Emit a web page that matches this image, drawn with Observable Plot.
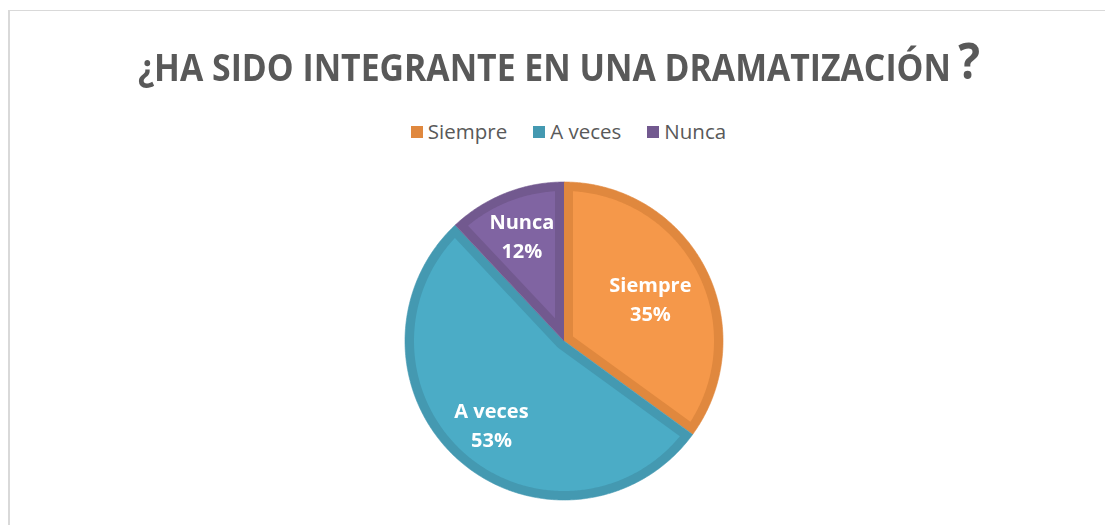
<!DOCTYPE html>
<html><head><meta charset="utf-8">
<script src="https://cdn.jsdelivr.net/npm/d3@7"></script>
<script src="https://cdn.jsdelivr.net/npm/@observablehq/plot@0.6"></script>
<style>
body{margin:0;width:1105px;height:525px;overflow:hidden;background:#fff;position:relative;font-family:"Open Sans",sans-serif}
#frame{position:absolute;left:8px;top:10px;width:1200px;height:600px;border-left:2px solid #d9d9d9;border-top:1px solid #d9d9d9;box-sizing:border-box}
#title{position:absolute;left:138px;top:37px;white-space:nowrap;font-weight:700;font-size:37px;line-height:1;color:#595959;transform-origin:0 0}
#title .q{font-size:50px;position:relative;top:-2px;margin-left:8px}
#legend{position:absolute;top:117px;left:0;width:1105px;display:flex;justify-content:center;padding-left:32px;box-sizing:border-box;font-size:20.5px;color:#595959;line-height:28px}
#legend .item{display:flex;align-items:center;margin:0 13px}
#legend .sw{width:12px;height:12px;margin-right:5px;margin-top:2px}
#chart{position:absolute;left:0;top:0}
</style></head>
<body>
<div id="frame"></div>
<div id="title">¿HA SIDO INTEGRANTE EN UNA DRAMATIZACIÓN<span class="q">?</span></div>
<div id="legend"></div>
<div id="chart"></div>
<script>
const categories = ["Siempre", "A veces", "Nunca"];
const values = [35, 53, 12];
const percentLabels = ["35%", "53%", "12%"];
const fillColors = ["#F5984A", "#4BACC6", "#8064A2"];
const borderColors = ["#E0883E", "#4499B1", "#72598F"];
const labelRadius = [0.61, 0.69, 0.72];

const R = 159, W = 9, cx = 563.5, cy = 340.5;
const w = W / R;

const arcs = d3.pie().sort(null).value(d => d)(values);
const pt = (a, r) => [r * Math.sin(a), -r * Math.cos(a)];
function arcPts(a0, a1, r) {
  const n = Math.max(2, Math.ceil(Math.abs(a1 - a0) / 0.01));
  const out = [];
  for (let i = 0; i <= n; i++) out.push(pt(a0 + (a1 - a0) * i / n, r));
  return out;
}
function outerPoly(a0, a1) { return [[0, 0], ...arcPts(a0, a1, 1)]; }
function innerPoly(a0, a1) {
  const s = a1 - a0, ri = 1 - w, d = Math.asin(w / ri);
  const arc = arcPts(a0 + d, a1 - d, ri);
  if (s < Math.PI) {
    return [pt(a0 + s / 2, w / Math.sin(s / 2)), ...arc];
  }
  return [...arcPts(a1 - Math.PI / 2, a0 + Math.PI / 2, w), ...arc];
}

const marks = [];
arcs.forEach((a, i) => {
  const o = outerPoly(a.startAngle, a.endAngle).map(([x, y]) => ({x, y}));
  const inn = innerPoly(a.startAngle, a.endAngle).map(([x, y]) => ({x, y}));
  marks.push(Plot.line(o, {x: "x", y: "y", fill: borderColors[i], stroke: borderColors[i], strokeWidth: 0.6}));
  marks.push(Plot.line(inn, {x: "x", y: "y", fill: fillColors[i], stroke: "none"}));
});

const labelRows = arcs.map((a, i) => {
  const m = (a.startAngle + a.endAngle) / 2;
  const [x, y] = pt(m, labelRadius[i]);
  return {x, y, text: categories[i] + "\n" + percentLabels[i]};
});
marks.push(Plot.text(labelRows, {x: "x", y: "y", text: "text", fill: "white", fontSize: 20, fontWeight: "bold", fontFamily: "Open Sans", lineHeight: 1.45}));

const chart = Plot.plot({
  width: 1105, height: 525, margin: 0,
  x: {domain: [-1, 1], range: [cx - R, cx + R], axis: null},
  y: {domain: [-1, 1], range: [cy - R, cy + R], axis: null},
  style: {background: "transparent"},
  marks
});
document.getElementById("chart").appendChild(chart);

const legend = document.getElementById("legend");
categories.forEach((c, i) => {
  const it = document.createElement("div"); it.className = "item";
  const sw = document.createElement("div"); sw.className = "sw"; sw.style.background = borderColors[i];
  const tx = document.createElement("span"); tx.textContent = c;
  it.appendChild(sw); it.appendChild(tx); legend.appendChild(it);
});

const t = document.getElementById("title");
const tw = t.getBoundingClientRect().width;
t.style.transform = `scaleX(${842 / tw})`;
</script>
</body></html>
